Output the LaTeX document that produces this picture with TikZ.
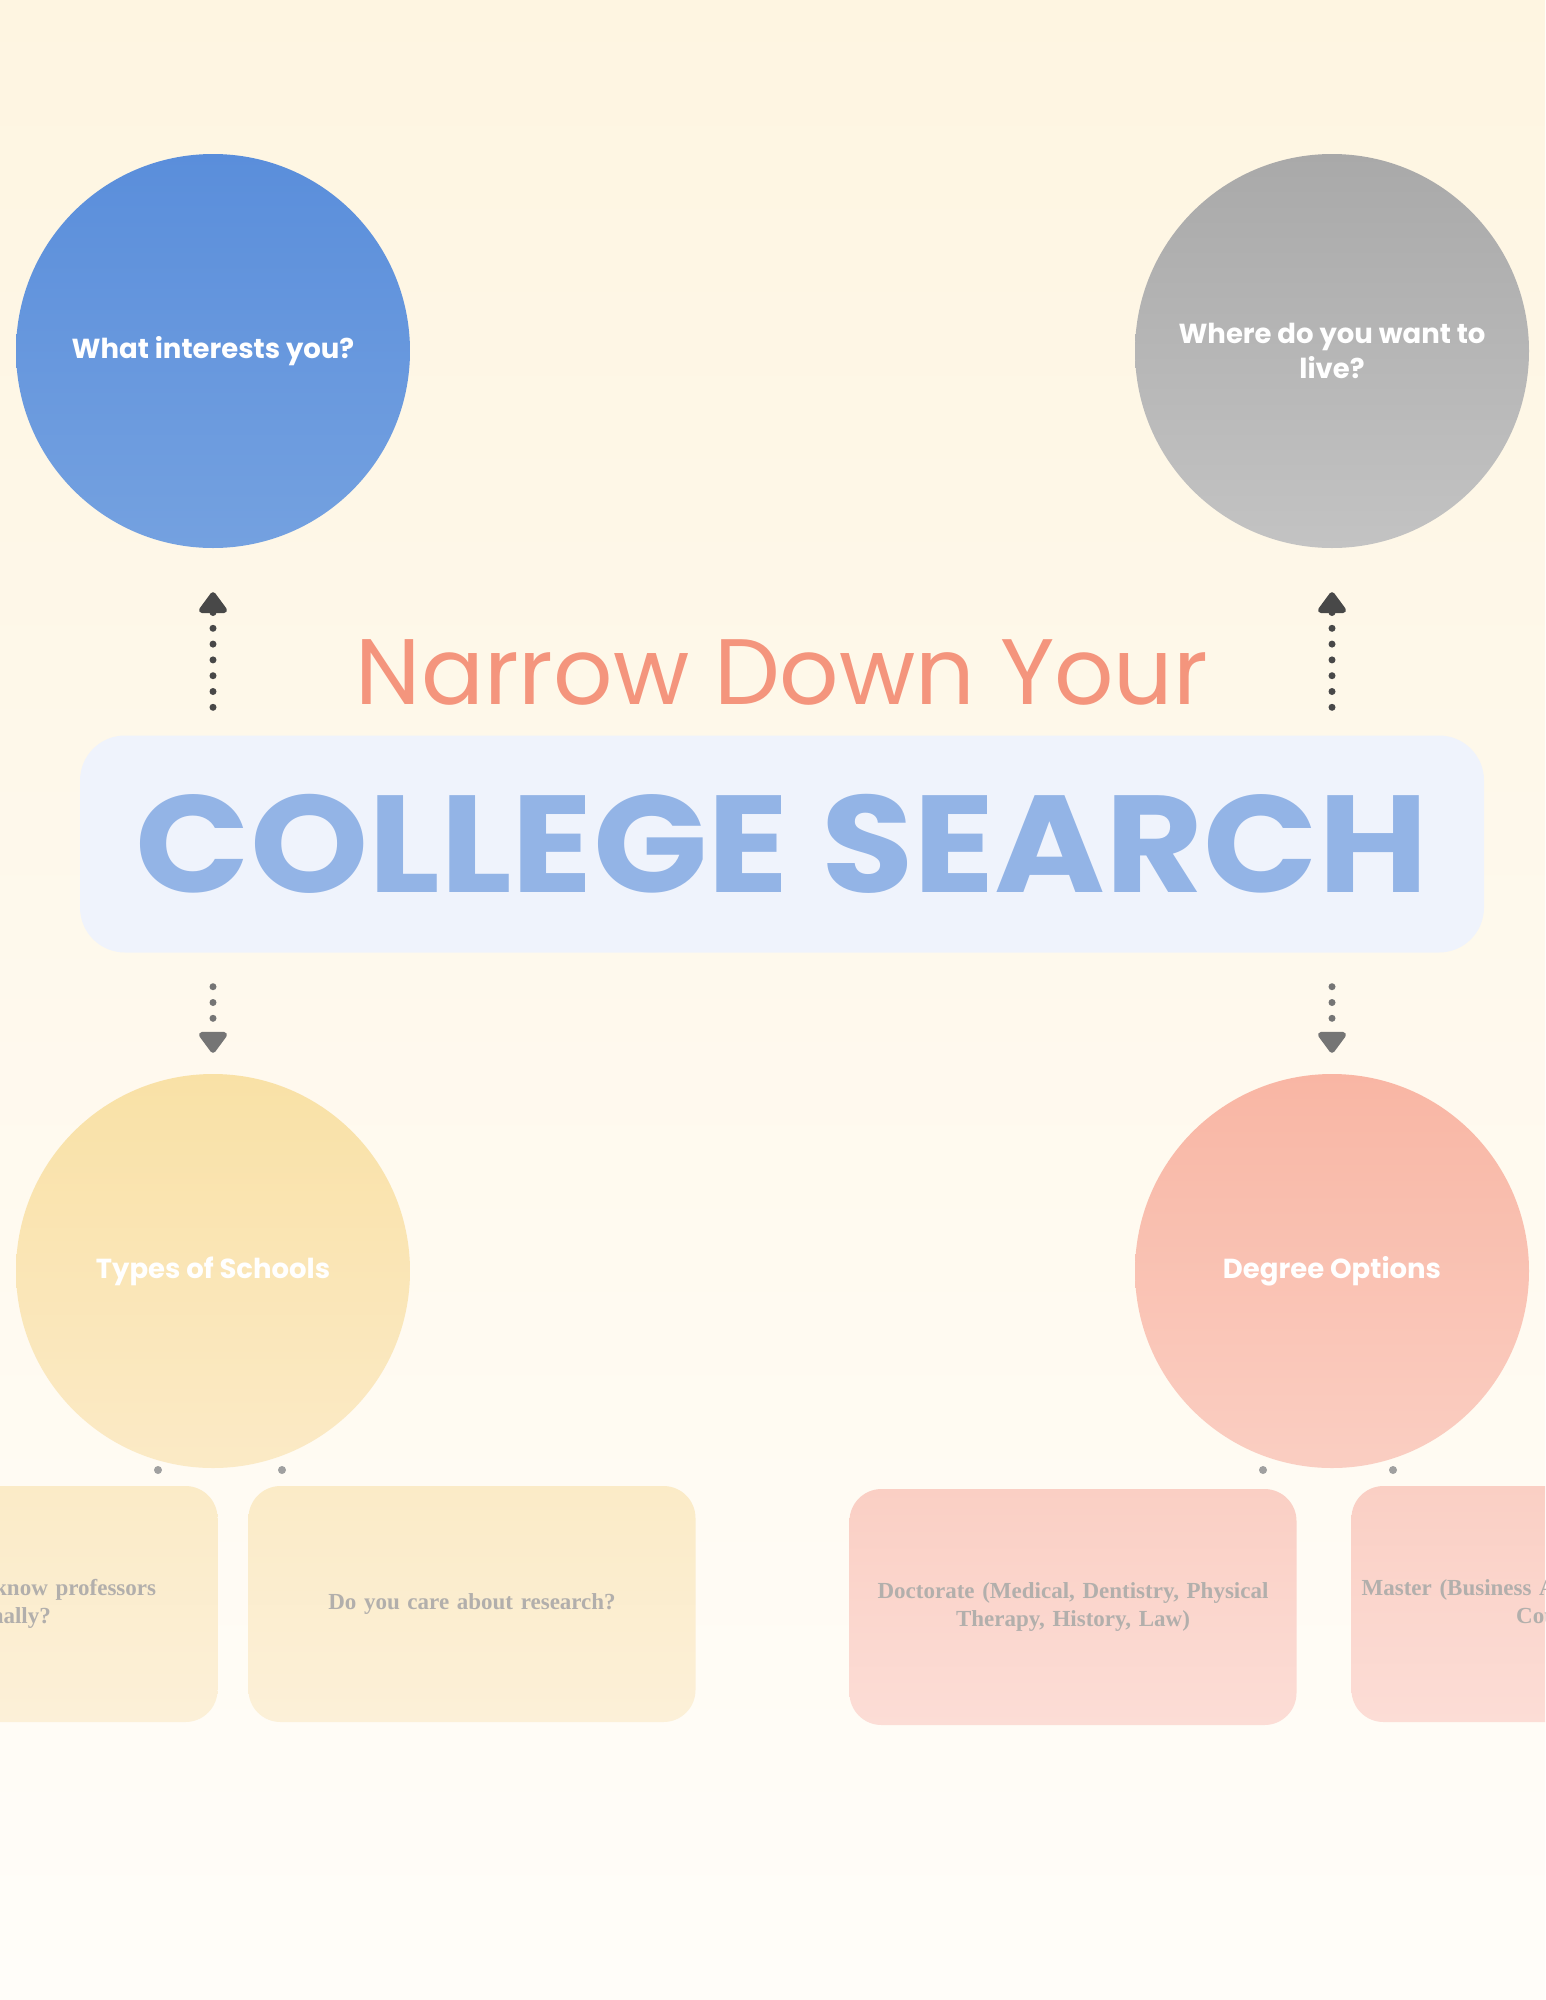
\documentclass[tikz,border=0pt]{standalone}
\usepackage{fontspec}
\setmainfont{Liberation Serif}
\newfontfamily\headfont{Poppins}
\usetikzlibrary{arrows.meta}
\definecolor{bgtop}{HTML}{FEF5E1}
\definecolor{bgbottom}{HTML}{FFFDF9}
\definecolor{blueA}{HTML}{5A8EDB}
\definecolor{blueB}{HTML}{74A1E0}
\definecolor{grayA}{HTML}{A9A9A9}
\definecolor{grayB}{HTML}{C3C3C3}
\definecolor{yellowA}{HTML}{F9E1A6}
\definecolor{yellowB}{HTML}{FBEAC6}
\definecolor{salmonA}{HTML}{F9B6A4}
\definecolor{salmonB}{HTML}{FACEC2}
\definecolor{titlebg}{HTML}{EFF3FC}
\definecolor{titleblue}{HTML}{93B4E6}
\definecolor{titlesalmon}{HTML}{F4957D}
\definecolor{cardyellowA}{HTML}{FBEBC7}
\definecolor{cardyellowB}{HTML}{FCF0D8}
\definecolor{cardpinkA}{HTML}{FACFC4}
\definecolor{cardpinkB}{HTML}{FCDDD6}
\definecolor{cardtext}{HTML}{B2AFAC}
\definecolor{knobgray}{HTML}{A0A0A0}
\definecolor{arrowdark}{HTML}{484848}
\definecolor{arrowlight}{HTML}{757575}

\begin{document}
\begin{tikzpicture}[x=1pt, y=-1pt,
    bubble/.style={circle, minimum size=394pt, inner sep=0pt, text=white,
        align=center, font=\headfont\bfseries\fontsize{27.5}{35}\selectfont},
    card/.style={rounded corners=32pt, minimum width=447pt, minimum height=236pt,
        inner sep=0pt, text width=440pt, align=center, text=cardtext,
        font=\bfseries\fontsize{23}{28}\selectfont},
    knob/.style={circle, fill=knobgray, minimum size=8pt, inner sep=0pt},
    dotarrow/.style={line width=7pt, dash pattern=on 0pt off 15.8pt, line cap=round,
        -{Triangle[length=23pt, width=32pt, round]}}]

    % Hintergrund
    \useasboundingbox (0,0) rectangle (1545,2000);
    \clip (0,0) rectangle (1545,2000);
    \fill[top color=bgtop, bottom color=bgbottom] (0,0) rectangle (1545,2000);

    % Titel
    \node[text=titlesalmon, font=\headfont\fontsize{93}{105}\selectfont] (narrow) at (782,672) {Narrow Down Your};
    \node[fill=titlebg, rounded corners=45pt, minimum width=1404pt, minimum height=217pt,
        text=titleblue, font=\headfont\bfseries\fontsize{138}{150}\selectfont] (search) at (782,844)
        {\scalebox{1.09}[1]{COLLEGE SEARCH}};

    % Kreise oben
    \node[bubble, top color=blueA, bottom color=blueB] (interest) at (213,351) {What interests you?};
    \node[bubble, top color=grayA, bottom color=grayB] (live) at (1332,351) {Where do you want to\\live?};

    % Kreise unten
    \node[bubble, top color=yellowA, bottom color=yellowB] (types) at (213,1271) {Types of Schools};
    \node[bubble, top color=salmonA, bottom color=salmonB] (degree) at (1332,1271) {Degree Options};

    % Pfeile
    \draw[dotarrow, arrowdark, shorten <=28pt, shorten >=44pt] (interest.south |- search.north) -- (interest.south);
    \draw[dotarrow, arrowdark, shorten <=28pt, shorten >=44pt] (live.south |- search.north) -- (live.south);
    \draw[dotarrow, arrowlight, shorten <=34pt, shorten >=21pt] (types.north |- search.south) -- (types.north);
    \draw[dotarrow, arrowlight, shorten <=34pt, shorten >=21pt] (degree.north |- search.south) -- (degree.north);

    % Karten
    \node[card, top color=cardyellowA, bottom color=cardyellowB] (profs) at (-6,1604) {Do you want to know professors\\personally?};
    \node[card, top color=cardyellowA, bottom color=cardyellowB] (research) at (472,1604) {Do you care about research?};
    \node[card, top color=cardpinkA, bottom color=cardpinkB] (doctorate) at (1073,1607) {Doctorate (Medical, Dentistry, Physical\\Therapy, History, Law)};
    \node[card, top color=cardpinkA, bottom color=cardpinkB] (master) at (1575,1604) {Master (Business Administration, Nursing,\\Counseling)};

    % Punkte
    \node[knob] (k1) at (158,1470) {};
    \node[knob] (k2) at (282,1470) {};
    \node[knob] (k3) at (1263,1470) {};
    \node[knob] (k4) at (1393,1470) {};

\end{tikzpicture}
\end{document}
